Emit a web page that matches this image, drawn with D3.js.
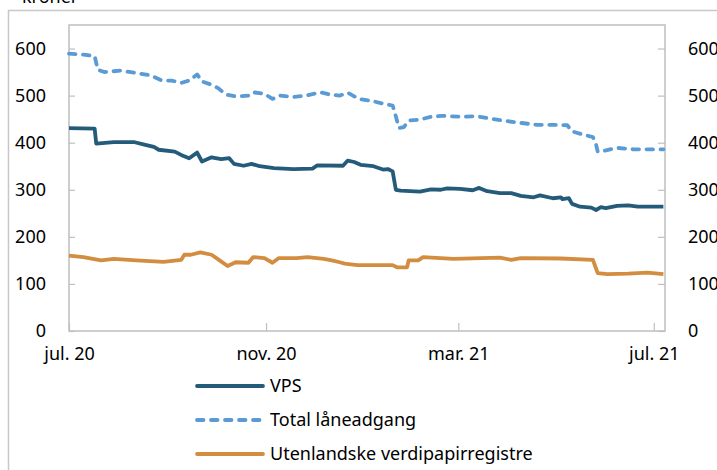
<!DOCTYPE html>
<meta charset="utf-8">
<style>
    body { margin: 0; background: #fff; }
    svg text { font-family: "Noto Sans", "Open Sans", sans-serif; fill: #000; }
</style>
<svg width="717" height="470"></svg>
<script src="https://d3js.org/d3.v7.min.js"></script>
<script>

// values (billion kroner)
var vpsDates = ["2020-07-01","2020-07-17","2020-07-18","2020-07-29","2020-08-11","2020-08-17","2020-08-23","2020-08-26",
    "2020-09-05","2020-09-09","2020-09-14","2020-09-19","2020-09-22","2020-09-28","2020-10-04","2020-10-09","2020-10-12",
    "2020-10-18","2020-10-23","2020-10-28","2020-11-06","2020-11-18","2020-11-30","2020-12-03","2020-12-19","2020-12-22",
    "2020-12-26","2020-12-30","2021-01-07","2021-01-13","2021-01-16","2021-01-19","2021-01-21","2021-01-24","2021-02-05",
    "2021-02-12","2021-02-18","2021-02-22","2021-03-02","2021-03-10","2021-03-14","2021-03-19","2021-03-27","2021-04-03",
    "2021-04-09","2021-04-17","2021-04-21","2021-04-29","2021-05-04","2021-05-05","2021-05-09","2021-05-11","2021-05-16",
    "2021-05-23","2021-05-26","2021-05-29","2021-06-01","2021-06-08","2021-06-15","2021-06-21","2021-07-07"];
var vpsValues = [431,430,398,401,401,396,391,385,
    381,374,367,379,360,369,365,367,355,
    351,355,350,346,344,345,352,351,362,
    359,353,350,343,344,339,300,298,296,
    301,300,303,302,299,304,297,293,293,
    287,284,288,282,284,280,282,270,264,
    262,257,263,261,266,267,264,264];

var totalDates = ["2020-07-01","2020-07-10","2020-07-17","2020-07-19","2020-07-23","2020-08-02","2020-08-12","2020-08-21",
    "2020-08-28","2020-09-03","2020-09-09","2020-09-14","2020-09-19","2020-09-22","2020-09-28","2020-10-02","2020-10-07",
    "2020-10-14","2020-10-21","2020-10-24","2020-10-31","2020-11-05","2020-11-10","2020-11-18","2020-11-27","2020-12-05",
    "2020-12-11","2020-12-17","2020-12-22","2020-12-29","2021-01-07","2021-01-13","2021-01-19","2021-01-21","2021-01-23",
    "2021-01-26","2021-01-29","2021-02-05","2021-02-12","2021-02-19","2021-03-02","2021-03-13","2021-03-21","2021-03-29",
    "2021-04-09","2021-04-19","2021-04-27","2021-05-08","2021-05-11","2021-05-18","2021-05-24","2021-05-26","2021-05-27",
    "2021-05-31","2021-06-08","2021-06-18","2021-07-07"];
var totalValues = [589,587,584,555,550,553,548,543,
    532,532,527,532,545,530,523,516,502,
    498,500,507,504,493,500,497,501,507,
    502,500,506,493,488,483,479,456,431,
    433,447,449,455,457,455,456,451,447,
    442,438,438,437,424,417,412,396,381,
    383,389,386,386];

var foreignDates = ["2020-07-01","2020-07-10","2020-07-21","2020-07-29","2020-08-12","2020-08-29","2020-09-09","2020-09-11",
    "2020-09-15","2020-09-21","2020-09-28","2020-10-03","2020-10-08","2020-10-13","2020-10-21","2020-10-24","2020-10-31",
    "2020-11-05","2020-11-09","2020-11-20","2020-11-27","2020-12-07","2020-12-12","2020-12-17","2020-12-20","2020-12-28",
    "2021-01-06","2021-01-19","2021-01-22","2021-01-28","2021-01-29","2021-02-04","2021-02-07","2021-02-26","2021-03-27",
    "2021-04-03","2021-04-09","2021-05-04","2021-05-24","2021-05-27","2021-06-02","2021-06-15","2021-06-27","2021-07-07"];
var foreignValues = [160,157,150,153,150,147,151,162,
    162,167,162,150,138,146,145,157,155,
    145,155,155,157,153,150,146,143,140,
    140,140,135,135,150,150,157,153,156,
    151,155,154,151,123,121,122,124,121];

var seriesNames = ["VPS", "Total låneadgang", "Utenlandske verdipapirregistre"];
var yTicks = [0, 100, 200, 300, 400, 500, 600];
var xTicks = ["2020-07-01", "2020-11-01", "2021-03-01", "2021-07-01"];
var monthNames = ["jan.","feb.","mar.","apr.","mai","jun.","jul.","aug.","sep.","okt.","nov.","des."];

var parse = d3.utcParse("%Y-%m-%d");
function pairs(dates, values) {
    return dates.map(function(d, i) { return { date: parse(d), value: values[i] }; });
}

var series = [
    { name: seriesNames[0], data: pairs(vpsDates, vpsValues), color: "#245b7b", dash: null },
    { name: seriesNames[1], data: pairs(totalDates, totalValues), color: "#5b9bd5", dash: "6.5,7.5" },
    { name: seriesNames[2], data: pairs(foreignDates, foreignValues), color: "#d38d40", dash: null }
];

var svg = d3.select("svg");

var plotL = 69, plotR = 665, plotT = 25, plotB = 331;

var x = d3.scaleUtc()
    .domain([parse("2020-07-01"), parse("2021-07-08")])
    .range([plotL, plotR]);

var y = d3.scaleLinear()
    .domain([0, 650])
    .range([plotB, plotT]);

// outer frame + cut-off unit label
svg.append("rect")
    .attr("x", 8.5).attr("y", 10.5)
    .attr("width", 760).attr("height", 500)
    .attr("fill", "none")
    .attr("stroke", "#c8c8c8")
    .attr("stroke-width", 1.5);

svg.append("text")
    .attr("x", 22).attr("y", 3)
    .attr("font-size", 18)
    .text("kroner");

// plot box
svg.append("rect")
    .attr("x", plotL).attr("y", plotT)
    .attr("width", plotR - plotL).attr("height", plotB - plotT)
    .attr("fill", "none")
    .attr("stroke", "#bfbfbf")
    .attr("stroke-width", 1.5);

function styleAxis(g) {
    g.select(".domain").remove();
    g.selectAll(".tick line").attr("stroke", "#bfbfbf").attr("stroke-width", 1.2);
    g.selectAll(".tick text").attr("font-size", 18).attr("fill", "#000")
        .attr("font-family", "'Noto Sans', 'Open Sans', sans-serif");
}

svg.append("g")
    .attr("transform", "translate(" + plotL + ",0)")
    .call(d3.axisRight(y).tickValues(yTicks).tickSize(6).tickFormat(""))
    .call(styleAxis);

svg.append("g")
    .attr("transform", "translate(" + plotL + ",0)")
    .call(d3.axisLeft(y).tickValues(yTicks).tickSize(0).tickPadding(23))
    .call(styleAxis);

svg.append("g")
    .attr("transform", "translate(" + plotR + ",0)")
    .call(d3.axisLeft(y).tickValues(yTicks).tickSize(7).tickFormat(""))
    .call(styleAxis);

svg.append("g")
    .attr("transform", "translate(" + plotR + ",0)")
    .call(d3.axisRight(y).tickValues(yTicks).tickSize(0).tickPadding(23))
    .call(styleAxis);

svg.append("g")
    .attr("transform", "translate(0," + plotB + ")")
    .call(d3.axisTop(x).tickValues(xTicks.map(parse)).tickSize(8).tickFormat(""))
    .call(styleAxis);

svg.append("g")
    .attr("transform", "translate(0," + plotB + ")")
    .call(d3.axisBottom(x).tickValues(xTicks.map(parse)).tickSize(0).tickPadding(16)
        .tickFormat(function(d) {
            return monthNames[d.getUTCMonth()] + " " + String(d.getUTCFullYear()).slice(2);
        }))
    .call(styleAxis);

var line = d3.line()
    .x(function(d) { return x(d.date); })
    .y(function(d) { return y(d.value); });

svg.append("g").selectAll("path")
    .data(series)
  .enter().append("path")
    .attr("d", function(d) { return line(d.data); })
    .attr("fill", "none")
    .attr("stroke", function(d) { return d.color; })
    .attr("stroke-width", 3.8)
    .attr("stroke-linejoin", "round")
    .attr("stroke-linecap", function(d) { return d.dash ? "round" : "butt"; })
    .attr("stroke-dasharray", function(d) { return d.dash; });

// legend
var legend = svg.append("g").selectAll("g")
    .data(series)
  .enter().append("g")
    .attr("transform", function(d, i) { return "translate(197," + (386 + i * 34) + ")"; });

legend.append("line")
    .attr("x1", 0).attr("x2", 66)
    .attr("stroke", function(d) { return d.color; })
    .attr("stroke-width", 3.8)
    .attr("stroke-linecap", "round")
    .attr("stroke-dasharray", function(d) { return d.dash; });

legend.append("text")
    .attr("x", 73)
    .attr("dy", "0.35em")
    .attr("font-size", 18)
    .text(function(d) { return d.name; });

</script>
